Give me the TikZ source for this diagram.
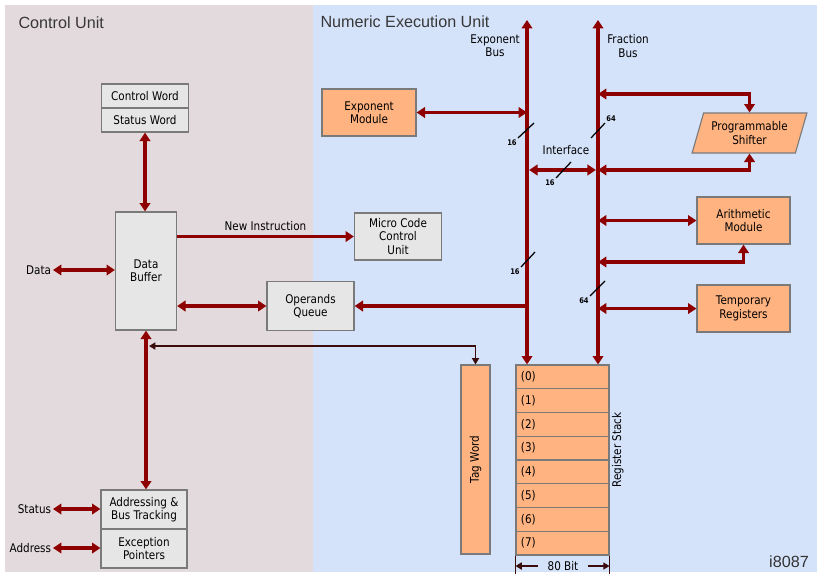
\documentclass[tikz,border=0pt]{standalone}
\usepackage{fontspec}
\usepackage{graphicx}
\setmainfont{DejaVu Sans}[FakeStretch=0.87]
\newfontfamily\titlefont{Liberation Sans}
\usetikzlibrary{arrows.meta, shapes.geometric}
\definecolor{cpink}{HTML}{E3DADE}
\definecolor{cblue}{HTML}{D5E3FA}
\definecolor{cdred}{HTML}{8E0000}
\definecolor{cbrown}{HTML}{3A0C0C}
\definecolor{cgreybox}{HTML}{E6E6E6}
\definecolor{cedge}{HTML}{7A7A7A}
\definecolor{corange}{HTML}{FFB380}
\tikzset{
  every picture/.style={line width=0.8pt},
  box/.style={draw=cedge, fill=#1, align=center, inner sep=2pt, font=\fontsize{8.5}{9.5}\selectfont},
  box/.default=cgreybox,
  sz/.style 2 args={minimum width=#1*0.025cm, minimum height=#2*0.025cm},
  reg/.style={box=corange, sz={93}{23.75}, inner xsep=0.125cm, text width=2.075cm, align=left},
  bus/.style={draw=cdred, line width=2.2pt},
  biarrow/.style={bus, {Triangle[length=6pt,width=7.5pt]}-{Triangle[length=6pt,width=7.5pt]}},
  arrow/.style={bus, -{Triangle[length=6pt,width=7.5pt]}},
  tagarrow/.style={draw=cbrown, line width=1.3pt, {Triangle[length=4.5pt,width=5pt]}-{Triangle[length=4.5pt,width=5pt]}},
  dimarrow/.style={draw=cbrown, line width=1.3pt, -{Triangle[length=4.5pt,width=5pt]}},
  slash/.style={draw=black, line width=0.9pt},
  bits/.style={font=\bfseries\fontsize{5.5}{6}\selectfont, inner sep=0.5pt},
  lbl/.style={font=\fontsize{8.5}{9.5}\selectfont, align=center, inner sep=1pt},
  title/.style={font=\titlefont\fontsize{11.5}{13}\selectfont, text=black!78, inner sep=0pt},
}
\begin{document}
\begin{tikzpicture}[x=0.025cm, y=-0.025cm]
  \fill[white] (0,0) rectangle (820,574);
  \useasboundingbox (0,0) rectangle (820,574);
  % the two units
  \fill[cpink] (5,5) rectangle (313,572);
  \fill[cblue] (313,5) rectangle (817,572);
  \node[title, anchor=west] (cutitle) at (18,23) {Control Unit};
  \node[title, anchor=west] (nutitle) at (320,22) {Numeric Execution Unit};
  % control unit
  \node[box, sz={87}{24}] (cw) at (145,96) {Control Word};
  \node[box, sz={87}{24}] (sw) at (145,120) {Status Word};
  \node[box, sz={61}{118}] (buf) at (146,271) {Data\\Buffer};
  \node[box, sz={87}{47}] (mcu) at (398,236.5) {Micro Code\\Control\\Unit};
  \node[box, sz={87}{49}] (opq) at (310.5,306) {Operands\\Queue};
  \node[box, sz={86}{39}] (abt) at (144,509.5) {Addressing \&\\Bus Tracking};
  \node[box, sz={86}{39}] (exc) at (144,548.5) {Exception\\Pointers};
  \node[lbl, anchor=east] (data) at (53,270) {Data};
  \node[lbl, anchor=east] (status) at (53,509) {Status};
  \node[lbl, anchor=east] (addr) at (53,548) {Address};
  % numeric execution unit
  \node[box=corange, sz={94}{47}] (expm) at (369,112.5) {Exponent\\Module};
  \node[box=corange, shape=trapezium, trapezium left angle=70, trapezium right angle=110,
        trapezium stretches=true, sz={115}{40}] (shift) at (749.5,133) {Programmable\\Shifter};
  \node[box=corange, sz={93}{47}] (arith) at (743.5,220.5) {Arithmetic\\Module};
  \node[box=corange, sz={93}{47}] (temp) at (743.5,308.5) {Temporary\\Registers};
  \node[box=corange, sz={29}{189}] (tag) at (475.5,459.5) {\rotatebox{90}{Tag Word}};
  \foreach \i in {0,...,7}
    \node[reg] (r\i) at (562.5,{365+23.75*(\i+0.5)}) {(\i)};
  \node[lbl, rotate=90, anchor=north] (rstack) at (610,450) {Register Stack};
  % buses
  \coordinate (eb) at (527,20);
  \coordinate (fb) at (598,20);
  \draw[biarrow] (eb) -- (eb |- r0.north);
  \draw[biarrow] (fb) -- (fb |- r0.north);
  \node[lbl] (eblabel) at (495,46) {Exponent\\Bus};
  \node[lbl] (fblabel) at (628,46) {Fraction\\Bus};
  \node[lbl] (iface) at (566,150) {Interface};
  % connectors
  \draw[biarrow] (sw.south) -- (sw.south |- buf.north);
  \draw[biarrow] (data.east) -- (data.east -| buf.west);
  \draw[arrow] (buf.east |- mcu.west) -- node[lbl, above=2pt] (newinstr) {New Instruction} (mcu.west);
  \draw[biarrow] (opq.west) -- (opq.west -| buf.east);
  \draw[arrow] (eb |- opq.east) -- (opq.east);
  \draw[biarrow] (buf.south) -- (buf.south |- abt.north);
  \draw[biarrow] (status.east) -- (status.east -| abt.west);
  \draw[biarrow] (addr.east) -- (addr.east -| exc.west);
  \coordinate (tagl) at (149,346);
  \draw[tagarrow] (tagl) -| (tag.north);
  \draw[biarrow] (expm.east) -- (eb |- expm.east);
  \draw[biarrow, shorten <=1.5pt, shorten >=1.5pt] (eb |- 0,170) -- (fb |- 0,170);
  \draw[biarrow] (shift.north) |- (fb |- 0,94);
  \draw[biarrow] (shift.south) |- (fb |- 0,170);
  \draw[biarrow] (arith.west) -- (fb |- arith.west);
  \draw[biarrow] (arith.south) |- (fb |- 0,262);
  \draw[biarrow] (temp.west) -- (fb |- temp.west);
  % bus widths
  \draw[slash] (534,123) -- (518,138) node[bits, anchor=north east] (w1) {16};
  \draw[slash] (571,162) -- (556,178) node[bits, anchor=north east] (w2) {16};
  \draw[slash] (591,138) -- (605,123) node[bits, anchor=south west] (w3) {64};
  \draw[slash] (535,252) -- (521,267) node[bits, anchor=north east] (w4) {16};
  \draw[slash] (605,281) -- (590,296) node[bits, anchor=north east] (w5) {64};
  % register width
  \draw[cbrown, line width=0.8pt] (r7.south west) -- ++(0,18);
  \draw[cbrown, line width=0.8pt] (r7.south east) -- ++(0,18);
  \node[lbl] (bitw) at (563,566) {80 Bit};
  \draw[dimarrow, shorten <=0.2cm] (bitw.west) -- (bitw.west -| r7.west);
  \draw[dimarrow, shorten <=0.2cm] (bitw.east) -- (bitw.east -| r7.east);
  \node[title, text=black!80] (chip) at (789,562) {i8087};
\end{tikzpicture}
\end{document}
